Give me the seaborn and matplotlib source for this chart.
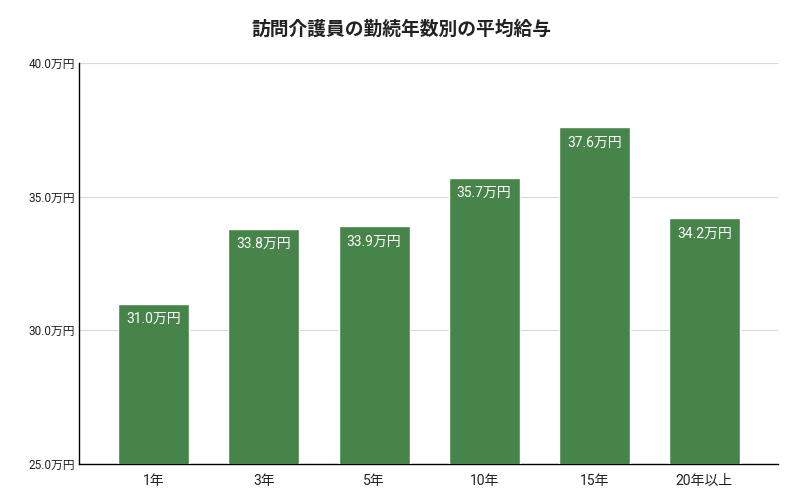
import pandas as pd
import seaborn as sns
import matplotlib.pyplot as plt

# data
years = ['1年', '3年', '5年', '10年', '15年', '20年以上']
salary = [31.0, 33.8, 33.9, 35.7, 37.6, 34.2]
yticks = [25.0, 30.0, 35.0, 40.0]

df = pd.DataFrame({'years': years, 'salary': salary})

sns.set_style('white')
plt.rcParams['font.family'] = ['Roboto', 'Noto Sans CJK JP', 'DejaVu Sans']

fig = plt.figure(figsize=(8.03, 4.97), dpi=100)
ax = fig.add_axes([0.0984, 0.0664, 0.8705, 0.8068])

sns.barplot(data=df, x='years', y='salary', color='#47844a', saturation=1,
            width=0.645, ax=ax, zorder=3)

ax.set_ylim(25, 40)
ax.set_xlim(-0.68, 5.67)
ax.set_yticks(yticks)
ax.set_yticklabels([f'{v:.1f}万円' for v in yticks], fontsize=8.5, color='#222222')
ax.tick_params(axis='x', labelsize=10, colors='#222222', length=0, pad=7)
ax.tick_params(axis='y', length=0, pad=3)
ax.grid(axis='y', color='#d9d9d9', linewidth=0.8, zorder=0)
ax.set_xlabel('')
ax.set_ylabel('')

for s in ['top', 'right']:
    ax.spines[s].set_visible(False)
for s in ['left', 'bottom']:
    ax.spines[s].set_color('#000000')
    ax.spines[s].set_linewidth(1)

for i, v in enumerate(salary):
    ax.annotate(f'{v:.1f}万円', (i, v), xytext=(0, -6), textcoords='offset points',
                ha='center', va='top', color='white', fontsize=10)

fig.suptitle('訪問介護員の勤続年数別の平均給与', x=0.5, y=0.96, fontsize=13.5,
             fontweight='bold', color='#222222')

fig.savefig('out.png', dpi=100)
